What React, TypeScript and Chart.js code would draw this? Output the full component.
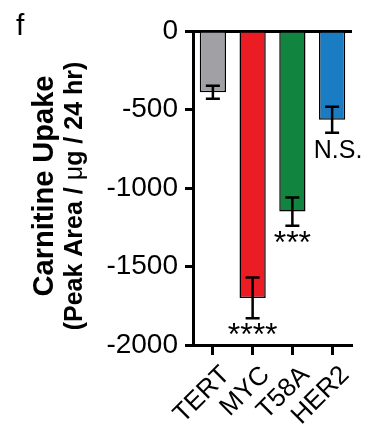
import React, { useEffect, useRef } from "react";
import { Chart, registerables } from "chart.js";

Chart.register(...registerables);

const categories = ["TERT", "MYC", "T58A", "HER2"];
const means = [-390, -1700, -1150, -565];
const sems = [42, 130, 90, 83];
const significance = ["", "****", "***", "N.S."];
const barColors = ["#a0a0a5", "#ec1c24", "#11843f", "#1a7cc2"];
const yMin = -2000;
const yMax = 0;
const yStep = 500;

const FONT = "'Liberation Sans', Arial, Helvetica, sans-serif";

const overlayPlugin = {
  id: "overlay",
  afterDatasetsDraw(chart: any) {
    const ctx = chart.ctx;
    const meta = chart.getDatasetMeta(0);
    const y = chart.scales.y;
    ctx.save();
    ctx.strokeStyle = "#000";
    ctx.fillStyle = "#000";
    ctx.lineWidth = 2.5;
    meta.data.forEach((bar: any, i: number) => {
      const x = bar.x;
      const yTop = y.getPixelForValue(means[i] + sems[i]);
      const yBot = y.getPixelForValue(means[i] - sems[i]);
      const cap = 7;
      ctx.beginPath();
      ctx.moveTo(x, yTop);
      ctx.lineTo(x, yBot);
      ctx.moveTo(x - cap, yTop);
      ctx.lineTo(x + cap, yTop);
      ctx.moveTo(x - cap, yBot);
      ctx.lineTo(x + cap, yBot);
      ctx.stroke();
      const s = significance[i];
      if (s) {
        ctx.textAlign = "center";
        ctx.textBaseline = "alphabetic";
        if (s.startsWith("*")) {
          ctx.font = `32px ${FONT}`;
          ctx.fillText(s, x, yBot + 27);
        } else {
          ctx.font = `25px ${FONT}`;
          ctx.fillText(s, x + 6, yBot + 25);
        }
      }
    });
    ctx.restore();
  },
  afterDraw(chart: any) {
    const ctx = chart.ctx;
    const area = chart.chartArea;
    const cy = (area.top + area.bottom) / 2;
    ctx.save();
    ctx.fillStyle = "#000";
    ctx.font = `30px ${FONT}`;
    ctx.textAlign = "left";
    ctx.textBaseline = "alphabetic";
    ctx.fillText("f", 16, 35);
    ctx.translate(53, cy - 2);
    ctx.rotate(-Math.PI / 2);
    ctx.textAlign = "center";
    ctx.font = `bold 29px ${FONT}`;
    ctx.fillText("Carnitine Upake", 0, 0);
    ctx.restore();
    ctx.save();
    ctx.fillStyle = "#000";
    ctx.translate(82, cy + 8);
    ctx.rotate(-Math.PI / 2);
    const parts: [string, string][] = [
      ["(Peak Area / ", `bold 25px ${FONT}`],
      ["\u03bc", `25px ${FONT}`],
      ["g / 24 hr)", `bold 25px ${FONT}`],
    ];
    let total = 0;
    parts.forEach(([t, f]) => {
      ctx.font = f;
      total += ctx.measureText(t).width;
    });
    let px = -total / 2;
    ctx.textAlign = "left";
    parts.forEach(([t, f]) => {
      ctx.font = f;
      ctx.fillText(t, px, 0);
      px += ctx.measureText(t).width;
    });
    ctx.restore();
  },
};

export default function App() {
  const ref = useRef<HTMLCanvasElement | null>(null);
  useEffect(() => {
    document.body.style.margin = "0";
    if (!ref.current) return;
    const chart = new Chart(ref.current, {
      type: "bar",
      data: {
        labels: categories,
        datasets: [
          {
            data: means,
            backgroundColor: barColors,
            borderColor: "#000",
            borderWidth: 1.5,
            barPercentage: 0.66,
            categoryPercentage: 1.0,
          },
        ],
      },
      options: {
        responsive: false,
        animation: false,
        layout: { padding: { left: 0, top: 31, right: 20, bottom: 0 } },
        plugins: {
          legend: { display: false },
          tooltip: { enabled: false },
          title: { display: false },
        },
        scales: {
          x: {
            position: "bottom",
            border: { display: true, color: "#000", width: 3 },
            grid: {
              display: true,
              drawOnChartArea: false,
              offset: false,
              tickColor: "#000",
              tickWidth: 3,
              tickLength: 10,
            },
            ticks: {
              color: "#000",
              font: { family: FONT, size: 26 },
              maxRotation: 45,
              minRotation: 45,
              padding: 5,
              labelOffset: 13,
              autoSkip: false,
            },
            afterFit: (scale: any) => {
              scale.height = 80;
            },
          },
          y: {
            min: yMin,
            max: yMax,
            border: { display: true, color: "#000", width: 3 },
            grid: {
              drawOnChartArea: true,
              color: (c: any) => (c.tick && c.tick.value === 0 ? "#000" : "rgba(0,0,0,0)"),
              lineWidth: 3,
              tickColor: "#000",
              tickWidth: 3,
              tickLength: 8,
            },
            ticks: {
              stepSize: yStep,
              color: "#000",
              font: { family: FONT, size: 28 },
              padding: 7,
              callback: (v: any) => String(v),
            },
            afterFit: (scale: any) => {
              scale.width = 193;
            },
          },
        },
      },
      plugins: [overlayPlugin],
    });
    return () => chart.destroy();
  }, []);
  return <canvas ref={ref} width={372} height={425} style={{ display: "block" }} />;
}
